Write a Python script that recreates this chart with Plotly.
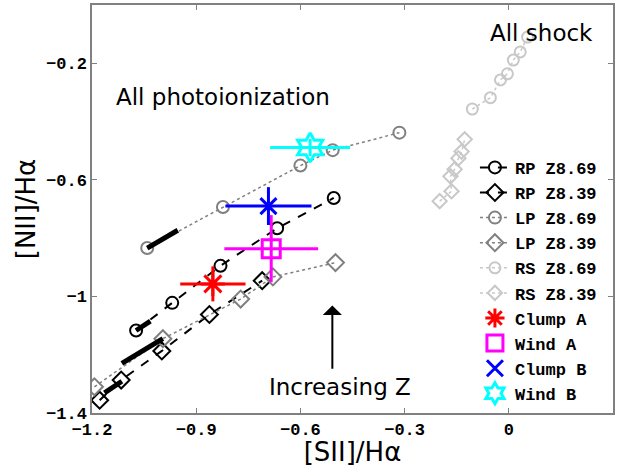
import plotly.graph_objects as go

# Model grids: [SII]/Halpha (x) and [NII]/Halpha (y), log ratios
rp869_x = [-1.073, -0.969, -0.830, -0.667, -0.504]
rp869_y = [-1.117, -1.022, -0.895, -0.766, -0.662]
rp839_x = [-1.178, -1.116, -0.999, -0.862, -0.710]
rp839_y = [-1.356, -1.287, -1.187, -1.062, -0.946]
lp869_x = [-1.041, -0.823, -0.600, -0.507, -0.315]
lp869_y = [-0.834, -0.693, -0.551, -0.498, -0.438]
lp839_x = [-1.193, -0.996, -0.772, -0.679, -0.499]
lp839_y = [-1.310, -1.145, -1.009, -0.933, -0.884]
rs869_x = [-0.105, -0.053, -0.024, -0.004, 0.013, 0.033, 0.054]
rs869_y = [-0.357, -0.318, -0.257, -0.236, -0.189, -0.161, -0.110]
rs839_x = [-0.199, -0.165, -0.168, -0.156, -0.145, -0.136, -0.127]
rs839_y = [-0.673, -0.639, -0.588, -0.564, -0.526, -0.503, -0.461]

# Low-metallicity ends of the photoionization tracks (heavy strokes)
low_rp869_x = [-1.073, -1.032]
low_rp869_y = [-1.117, -1.085]
low_rp839_x = [-1.164, -1.114]
low_rp839_y = [-1.331, -1.291]
low_lp869_x = [-1.041, -0.953]
low_lp869_y = [-0.834, -0.773]
low_lp839_x = [-1.114, -0.996]
low_lp839_y = [-1.230, -1.145]

# Measured regions with uncertainties
obs_names = ["Clump A", "Wind A", "Clump B", "Wind B"]
obs_x = [-0.852, -0.684, -0.692, -0.572]
obs_y = [-0.957, -0.836, -0.690, -0.489]
obs_xerr = [0.094, 0.135, 0.124, 0.115]
obs_yerr = [0.060, 0.115, 0.065, 0.030]
obs_colors = ["#ff0000", "#ff00ff", "#0000ff", "#00ffff"]
obs_symbols = ["asterisk-open", "square-open", "x-thin-open", "hexagram-open"]
obs_sizes = [20, 18, 16, 22]

x_ticks = [-1.2, -0.9, -0.6, -0.3, 0]
x_labels = ["\u22121.2", "\u22120.9", "\u22120.6", "\u22120.3", "0"]
y_ticks = [-1.4, -1, -0.6, -0.2]
y_labels = ["\u22121.4", "\u22121", "\u22120.6", "\u22120.2"]

mono_family = "Liberation Mono, Courier New, monospace"
mono = dict(family=mono_family, size=17, color="black", weight="bold")
sans = "DejaVu Sans, sans-serif"

fig = go.Figure()

models = [
    ("RP Z8.69", rp869_x, rp869_y, "black", "dash", "circle-open", 12),
    ("RP Z8.39", rp839_x, rp839_y, "black", "dash", "diamond-open", 13),
    ("LP Z8.69", lp869_x, lp869_y, "#808080", "dot", "circle-open", 12),
    ("LP Z8.39", lp839_x, lp839_y, "#808080", "dot", "diamond-open", 13),
    ("RS Z8.69", rs869_x, rs869_y, "#c8c8c8", "dot", "circle-open", 11),
    ("RS Z8.39", rs839_x, rs839_y, "#c8c8c8", "dot", "diamond-open", 11),
]
for name, xs, ys, col, dash, sym, sz in models:
    fig.add_trace(go.Scatter(
        x=xs, y=ys, name=name, mode="lines+markers",
        line=dict(color=col, dash=dash, width=2 if dash == "dash" else 1.5),
        marker=dict(symbol=sym, size=sz, color=col, line=dict(width=2, color=col)),
    ))

for xs, ys in [(low_rp869_x, low_rp869_y), (low_rp839_x, low_rp839_y),
               (low_lp869_x, low_lp869_y), (low_lp839_x, low_lp839_y)]:
    fig.add_trace(go.Scatter(x=xs, y=ys, mode="lines", showlegend=False,
                             hoverinfo="skip",
                             line=dict(color="black", width=5)))

for i, name in enumerate(obs_names):
    fig.add_trace(go.Scatter(
        x=[obs_x[i]], y=[obs_y[i]], name=name, mode="markers",
        error_x=dict(type="constant", value=obs_xerr[i], color=obs_colors[i],
                     thickness=3, width=0),
        error_y=dict(type="constant", value=obs_yerr[i], color=obs_colors[i],
                     thickness=3, width=0),
        marker=dict(symbol=obs_symbols[i], size=obs_sizes[i], color=obs_colors[i],
                    line=dict(width=3, color=obs_colors[i])),
    ))

fig.add_annotation(x=-0.823, y=-0.315, text="All photoionization", showarrow=False,
                   font=dict(family=sans, size=23, color="black"))
fig.add_annotation(x=0.093, y=-0.096, text="All shock", showarrow=False,
                   font=dict(family=sans, size=23, color="black"))
fig.add_annotation(x=-0.487, y=-1.310, text="Increasing Z", showarrow=False,
                   font=dict(family=sans, size=23, color="black"))
fig.add_annotation(x=-0.508, y=-1.031, ax=-0.508, ay=-1.253,
                   xref="x", yref="y", axref="x", ayref="y", text="",
                   showarrow=True, arrowhead=1, arrowsize=1.6, arrowwidth=2,
                   arrowcolor="black")

axis_common = dict(showline=True, linecolor="#808080", linewidth=1.5, mirror="ticks",
                   ticks="inside", ticklen=5, tickcolor="#808080", showgrid=False,
                   zeroline=False, tickfont=mono)

fig.update_xaxes(range=[-1.2, 0.3], tickvals=x_ticks, ticktext=x_labels,
                 title=dict(text="[SII]/H\u03b1", font=dict(family=sans, size=26, color="black"),
                            standoff=0),
                 **axis_common)
fig.update_yaxes(range=[-1.4, 0], tickvals=y_ticks, ticktext=y_labels,
                 title=dict(text="[NII]/H\u03b1", font=dict(family=sans, size=26, color="black"),
                            standoff=3),
                 **axis_common)

fig.update_layout(
    width=621, height=467,
    margin=dict(l=92, r=8, t=3, b=54),
    plot_bgcolor="white", paper_bgcolor="white",
    legend=dict(x=0.735, y=0.645, xanchor="left", yanchor="top",
                bgcolor="rgba(0,0,0,0)",
                font=dict(family=mono_family, size=17, color="black", weight="bold"),
                itemwidth=30),
)

fig.write_html("out.html")
